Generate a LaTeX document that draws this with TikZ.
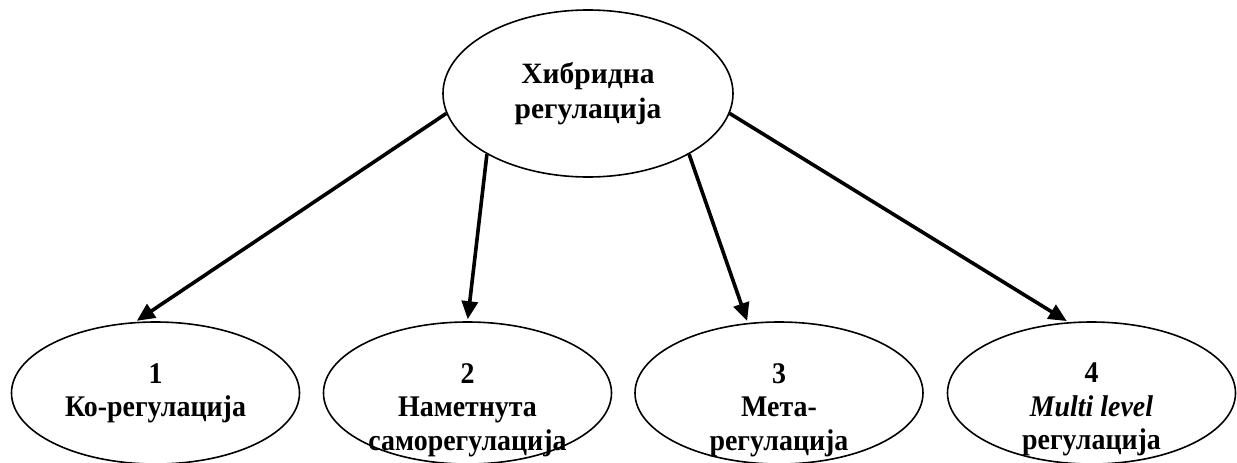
\documentclass[tikz,border=0pt]{standalone}
\usepackage{fontspec}
\setmainfont{Liberation Serif}
\newfontfamily\narrowserif{Liberation Serif}[FakeStretch=0.93]
\usetikzlibrary{shapes.geometric,arrows.meta}
\tikzset{
  oval/.style={ellipse, draw=black, line width=1.6pt, inner sep=0pt},
  topoval/.style={oval, minimum width=290pt, minimum height=167pt},
  suboval/.style={oval, minimum width=288pt, minimum height=142pt},
  lbl/.style={inner sep=0pt, align=center, font=\fontsize{29.5}{35}\selectfont\bfseries},
  sublbl/.style={lbl, font=\narrowserif\fontsize{30}{33.5}\selectfont\bfseries},
  link/.style={line width=3.6pt, -{Triangle[length=18pt,width=16pt]}, shorten >=2pt}
}
\begin{document}
\begin{tikzpicture}[x=1pt, y=-1pt]
  \useasboundingbox (0,0) rectangle (1237,463);

  % root of the hierarchy
  \node[topoval] (root) at (588,93.5) {};
  \node[lbl, anchor=north] (rootText) at (588,62) {Хибридна\\регулација};

  % the four kinds of regulation
  \node[suboval] (k1) at (155.5,393) {};
  \node[suboval] (k2) at (467.5,393) {};
  \node[suboval] (k3) at (779,393) {};
  \node[suboval] (k4) at (1091.5,393) {};

  \node[sublbl, anchor=north] (k1Text) at (155.5,363) {1\\Ко-регулација};
  \node[sublbl, anchor=north] (k2Text) at (467.5,363) {2\\Наметнута\\саморегулација};
  \node[sublbl, anchor=north] (k3Text) at (779,363) {3\\Мета-\\регулација};
  \node[sublbl, anchor=north] (k4Text) at (1091.5,363) {4\\\textit{Multi level}\\регулација};

  % connectors
  \draw[link] (root.188) -- (k1.106);
  \draw[link] (root.211) -- (k2.90);
  \draw[link] (root.329) -- (k3.114);
  \draw[link] (root.352) -- (k4.108);
\end{tikzpicture}
\end{document}
